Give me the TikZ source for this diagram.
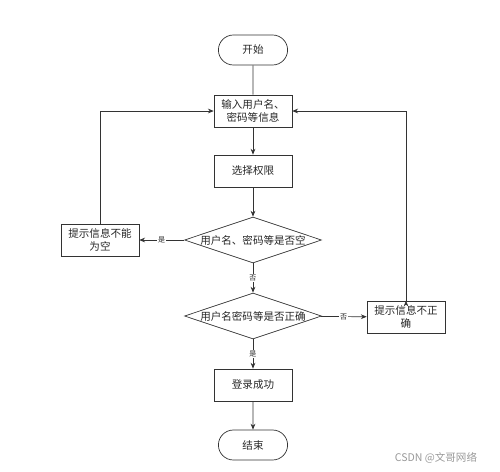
\documentclass[tikz,border=0pt]{standalone}
\usepackage{fontspec}
\setmainfont{Noto Sans CJK SC}
\usetikzlibrary{shapes.geometric, shapes.misc, arrows.meta}

\tikzset{
  every node/.style={font=\fontsize{9}{11}\selectfont, text=black!85},
  terminal/.style={draw, rounded rectangle, minimum width=2.31cm, minimum height=0.9cm},
  process/.style={draw, rectangle, minimum width=2.31cm, minimum height=0.96cm, align=center, text width=2.1cm},
  decision/.style={draw, diamond, minimum width=4.11cm, minimum height=1.38cm, inner sep=0pt},
  tag/.style={fill=white, inner sep=1pt, font=\fontsize{6}{7}\selectfont},
}

\begin{document}
\begin{tikzpicture}[x=0.03cm, y=-0.03cm, line width=0.6pt, draw=black!80]
\useasboundingbox (0, 0) rectangle (500, 471);

% nodes
\node[terminal] (A) at (253, 50) {开始};
\node[process] (B) at (253, 111) {输入用户名、\\密码等信息};
\node[process] (C) at (253, 171) {选择权限};
\node[decision, label=center:{用户名、密码等是否空}] (D) at (253, 240) {};
\node[process] (E) at (100, 240) {提示信息不能\\为空};
\node[decision, label=center:{用户名密码等是否正确}] (F) at (253, 316) {};
\node[process] (G) at (406, 317) {提示信息不正\\确};
\node[process] (H) at (253, 385) {登录成功};
\node[terminal] (I) at (253, 445) {结束};

\node[text=black!40, font=\fontsize{9}{11}\selectfont] (W) at (436, 458) {CSDN @文哥网络};

\draw (A) -- (B);
\draw [-{Stealth[length=5pt, width=4pt]}]
    (B) edge (C) (C) edge (D)
    (D) edge node[tag] {是} (E)
    (D) edge node[tag] {否} (F)
    (F) edge node[tag] {否} (G)
    (F) edge node[tag] {是} (H)
    (H) edge (I)
    (E.north) edge [to path={|- (\tikztotarget)}] (B.west)
    (G.north) edge [to path={|- (\tikztotarget)}] (B.east)
    ;
\end{tikzpicture}
\end{document}
